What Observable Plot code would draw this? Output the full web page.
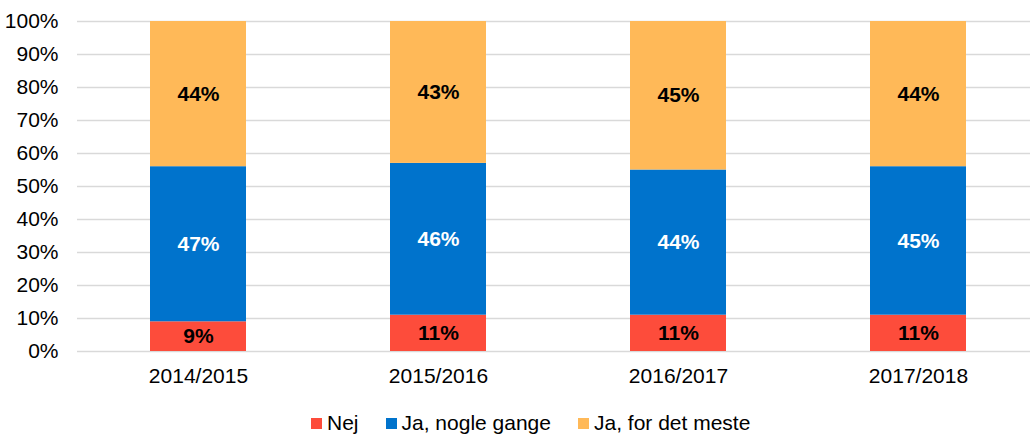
<!DOCTYPE html>
<html>
<head>
<meta charset="utf-8">
<script src="https://cdn.jsdelivr.net/npm/d3@7"></script>
<script src="https://cdn.jsdelivr.net/npm/@observablehq/plot@0.6"></script>
<style>
  html, body { margin: 0; padding: 0; background: #fff; width: 1030px; height: 437px; overflow: hidden; }
  body { font-family: "Liberation Sans", Arial, sans-serif; }
  #chart svg { display: block; }
  .legend { display: flex; justify-content: flex-start; align-items: center; font-size: 21px; color: #000; margin-left: 311px; margin-top: 11px; }
  .legend .item { display: flex; align-items: center; margin-right: 27px; }
  .legend .sw { width: 11px; height: 11px; margin-right: 5px; }
</style>
</head>
<body>
<div id="chart"></div>
<div class="legend" id="legend"></div>
<script>
const years = ["2014/2015", "2015/2016", "2016/2017", "2017/2018"];
const series = ["Nej", "Ja, nogle gange", "Ja, for det meste"];
const nej = [9, 11, 11, 11];
const jaNogle = [47, 46, 44, 45];
const jaMeste = [44, 43, 45, 44];
const colors = ["#fd4c3b", "#0073cc", "#ffb958"];
const labelColors = ["#000", "#fff", "#000"];
const yTicks = [0, 10, 20, 30, 40, 50, 60, 70, 80, 90, 100];

const seriesValues = [nej, jaNogle, jaMeste];
const data = [];
series.forEach((s, si) => {
  years.forEach((y, yi) => {
    data.push({ year: y, series: s, value: seriesValues[si][yi], lc: labelColors[si] });
  });
});

const chart = Plot.plot({
  width: 1030,
  height: 400,
  marginLeft: 77,
  marginRight: 0,
  marginTop: 21,
  marginBottom: 49,
  style: { fontFamily: '"Liberation Sans", Arial, sans-serif', fontSize: "21px", color: "#000", background: "#fff" },
  x: { domain: years, range: [77, 1039], paddingInner: 0.6, paddingOuter: 0.3, label: null },
  y: { domain: [0, 100], label: null },
  color: { domain: series, range: colors },
  marks: [
    Plot.gridY(yTicks, { stroke: "#d9d9d9", strokeOpacity: 1, strokeWidth: 1.5 }),
    Plot.axisY(yTicks, { tickSize: 0, tickPadding: 19, tickFormat: d => d + "%", fontSize: 21, fill: "#000" }),
    Plot.axisX({ tickSize: 0, tickPadding: 17, fontSize: 21, fill: "#000" }),
    Plot.barY(data, Plot.stackY({ x: "year", y: "value", z: "series", fill: "series", order: null })),
    Plot.text(data, Plot.stackY({ x: "year", y: "value", z: "series", order: null, text: d => d.value + "%", fill: "lc", fontWeight: "bold", fontSize: 21 }))
  ]
});
document.getElementById("chart").appendChild(chart);

const legend = document.getElementById("legend");
series.forEach((s, i) => {
  const item = document.createElement("div");
  item.className = "item";
  const sw = document.createElement("span");
  sw.className = "sw";
  sw.style.background = colors[i];
  const t = document.createElement("span");
  t.textContent = s;
  item.appendChild(sw);
  item.appendChild(t);
  legend.appendChild(item);
});
</script>
</body>
</html>
